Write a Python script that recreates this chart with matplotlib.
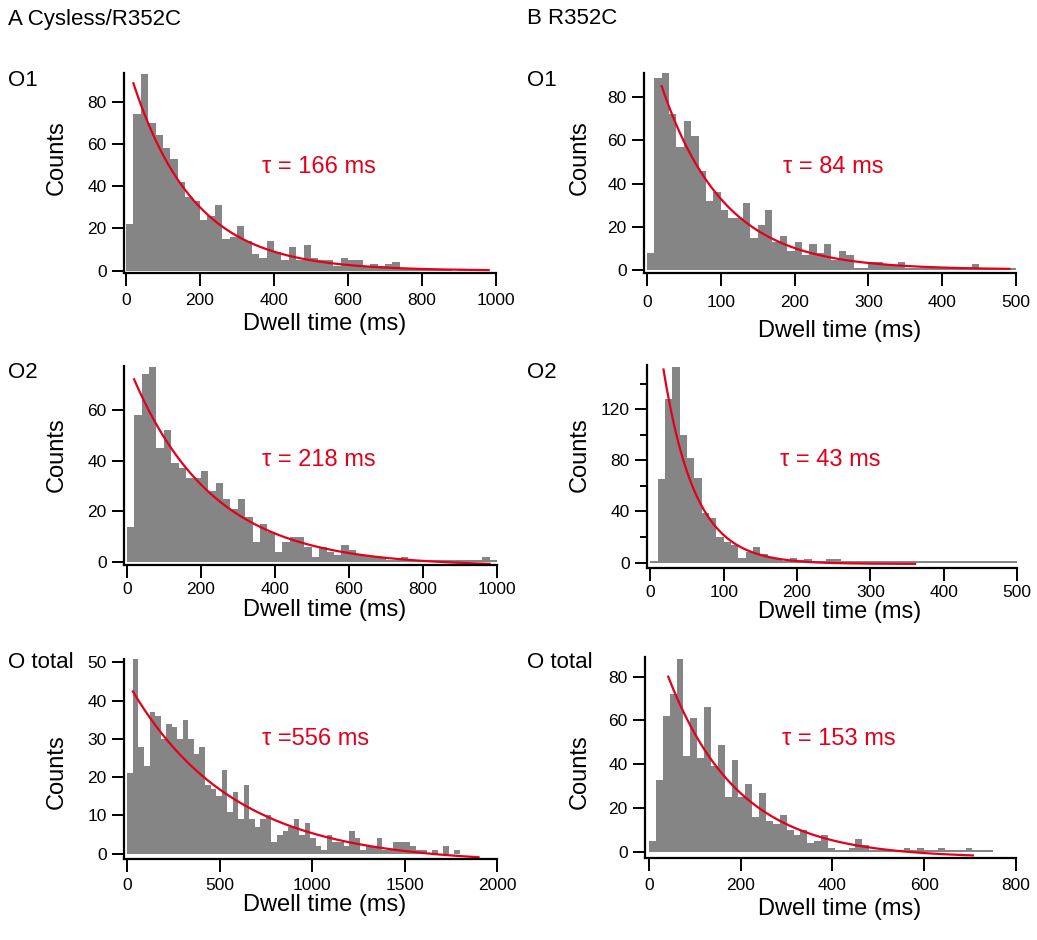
import numpy as np
import matplotlib
matplotlib.use('Agg')
import matplotlib.pyplot as plt

plt.rcParams['font.family'] = ['Liberation Sans', 'DejaVu Sans']

# histogram counts
a_o1_counts = [22, 74, 93, 70, 64, 58, 53, 42, 35, 33, 24, 26, 31, 15, 16, 21, 14, 8, 6, 14,
               9, 5, 11, 5, 12, 6, 5, 5, 2, 6, 5, 5, 2, 3, 2, 3, 4, 1, 1, 1,
               1, 1, 1, 1, 0, 1, 0, 0, 0, 0]
a_o2_counts = [14, 58, 74, 77, 45, 52, 39, 37, 33, 33, 36, 28, 31, 25, 21, 25, 18, 8, 15, 12,
               4, 8, 10, 10, 6, 2, 6, 4, 3, 7, 5, 3, 3, 2, 2, 1, 1, 2, 1, 1,
               1, 1, 1, 1, 1, 1, 1, 1, 2, 1]
a_ot_counts = [21, 51, 28, 23, 37, 36, 30, 34, 33, 30, 35, 30, 26, 28, 18, 17, 15, 22, 11, 16,
               9, 18, 9, 7, 9, 10, 3, 5, 6, 7, 9, 5, 8, 4, 2, 1, 5, 3, 3, 2,
               6, 4, 1, 2, 2, 4, 1, 1, 3, 3, 3, 2, 1, 1, 0, 1, 0, 2, 0, 1,
               0, 0, 0, 0, 0, 0]
b_o1_counts = [8, 89, 91, 72, 57, 69, 62, 46, 32, 36, 28, 24, 24, 31, 15, 21, 28, 13, 16, 9,
               13, 7, 12, 8, 12, 5, 9, 7, 1, 1, 4, 4, 3, 2, 4, 1, 1, 1, 1, 1,
               1, 1, 1, 1, 3, 1, 1, 1, 1, 1]
b_o2_counts = [1, 65, 128, 153, 100, 82, 66, 39, 35, 20, 16, 14, 4, 8, 12, 7, 4, 3, 1, 4,
               2, 3, 1, 1, 3, 3, 1, 1, 1, 1, 1, 1, 1, 1, 1, 1, 1, 1, 1, 1,
               1, 1, 1, 1, 1, 1, 1, 1, 1, 1]
b_ot_counts = [5, 33, 62, 72, 88, 44, 61, 43, 66, 39, 49, 25, 42, 25, 31, 16, 27, 14, 13, 17,
               10, 8, 10, 4, 5, 8, 2, 1, 1, 2, 6, 3, 1, 1, 1, 1, 1, 2, 1, 2,
               1, 1, 2, 1, 1, 1, 2, 1, 1, 1]

bin_widths = [20, 20, 30, 10, 10, 15]

# exponential fits: tau, amplitude, offset, start, end (ms)
taus = [166, 218, 556, 84, 43, 153]
amps = [100, 80.5, 47.4, 107.3, 231, 108.6]
offsets = [0, -1.5, -2.5, 0.4, -1, -2.6]
fit_start = [20, 20, 30, 20, 18, 42]
fit_end = [980, 980, 1900, 491, 361, 706]
tau_labels = ['τ = 166 ms', 'τ = 218 ms', 'τ =556 ms', 'τ = 84 ms', 'τ = 43 ms', 'τ = 153 ms']

x_ticks = [range(0, 1001, 200), range(0, 1001, 200), range(0, 2001, 500),
           range(0, 501, 100), range(0, 501, 100), range(0, 801, 200)]
y_ticks = [range(0, 81, 20), range(0, 61, 20), range(0, 51, 10),
           range(0, 81, 20), range(0, 121, 40), range(0, 81, 20)]

W, H = 1037, 940
GRAY = '#858585'
RED = '#e3001b'

fig = plt.figure(figsize=(W / 100, H / 100), dpi=100)

# axes boxes in pixels: left, right, top, bottom
boxes = [(124, 496, 73, 273), (124, 497, 366, 565), (124, 497, 659, 859),
         (644, 1016, 73, 273), (647, 1017, 365, 568), (645, 1016, 657, 858)]
xlims = [(-5.4, 1000), (-7.3, 1000), (-18, 2000), (-4, 500), (-4.5, 500), (-8.7, 800)]
ylims = [(-1.1, 93.5), (-1.06, 77.2), (-1.4, 50.9), (-1.2, 91.1), (-4.2, 154.5), (-2.7, 88.9)]
x_pads = [5.5, 3, 4.5, 7, 3, 5.5]

all_counts = [a_o1_counts, a_o2_counts, a_ot_counts, b_o1_counts, b_o2_counts, b_ot_counts]


def drawPanel(i):
    l, r, t, b = boxes[i]
    ax = fig.add_axes([l / W, 1 - b / H, (r - l) / W, (b - t) / H])
    counts = np.array(all_counts[i], dtype=float)
    edges = np.arange(len(counts) + 1) * bin_widths[i]
    ax.stairs(counts, edges, fill=True, color=GRAY, linewidth=1.2)
    t_fit = np.linspace(fit_start[i], fit_end[i], 300)
    ax.plot(t_fit, offsets[i] + amps[i] * np.exp(-t_fit / taus[i]), color=RED, lw=1.6)
    ax.set_xlim(*xlims[i])
    ax.set_ylim(*ylims[i])
    ax.set_xticks(list(x_ticks[i]))
    ax.set_yticks(list(y_ticks[i]))
    if i == 4:
        ax.set_yticks([20, 60, 100, 140], minor=True)
    for s in ['top', 'right']:
        ax.spines[s].set_visible(False)
    for s in ['left', 'bottom']:
        ax.spines[s].set_linewidth(1.6)
    ax.tick_params(axis='both', which='major', length=9, width=1.4, labelsize=12.5, pad=3.5)
    ax.tick_params(axis='x', which='major', pad=x_pads[i])
    ax.tick_params(axis='y', which='minor', length=5, width=1.4)
    ax.patch.set_alpha(0)
    return ax


for i in range(6):
    drawPanel(i)

# texts
def ftext(x, y, s, **kw):
    fig.text(x / W, 1 - y / H, s, **kw)

ftext(8, 19, 'A Cysless/R352C', fontsize=16, va='center', ha='left')
ftext(527, 19, 'B R352C', fontsize=16, va='center', ha='left')
for xo in [8, 527]:
    ftext(xo, 81, 'O1', fontsize=16, va='center', ha='left')
    ftext(xo, 372, 'O2', fontsize=16, va='center', ha='left')
    ftext(xo, 662, 'O total', fontsize=16, va='center', ha='left')

counts_x = [57, 57, 57, 580, 580, 580]
counts_y = [158, 455, 772, 158, 455, 772]
dwell_x = [325, 325, 325, 840, 840, 840]
dwell_y = [324, 610, 905, 331, 612, 909]
tau_x = [262, 262, 262, 783, 780, 782]
tau_y = [167, 460, 739, 167, 460, 739]
for i in range(6):
    ftext(counts_x[i], counts_y[i], 'Counts', fontsize=17, rotation=90, va='center', ha='center')
    ftext(dwell_x[i], dwell_y[i], 'Dwell time (ms)', fontsize=17, va='center', ha='center')
    ftext(tau_x[i], tau_y[i], tau_labels[i], fontsize=17, color=RED, va='center', ha='left')

plt.savefig('out.png', dpi=100)
